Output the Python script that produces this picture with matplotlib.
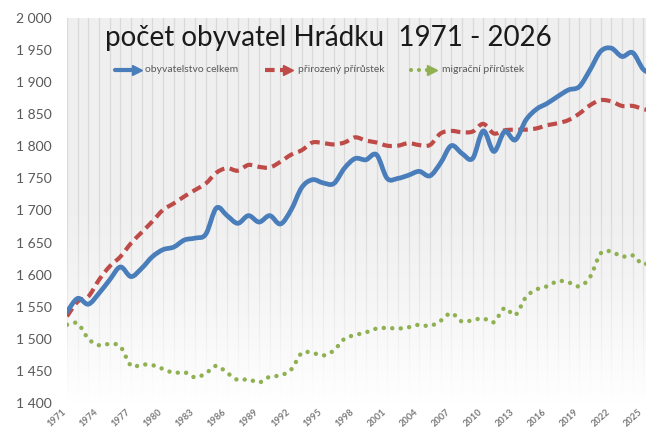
import numpy as np
import matplotlib
matplotlib.use('Agg')
import matplotlib.pyplot as plt
from matplotlib.path import Path
from matplotlib.patches import PathPatch
from matplotlib.lines import Line2D
from matplotlib.transforms import ScaledTranslation

# ---------------- data ----------------
years = list(range(1971, 2027))
total = [1542, 1563, 1554, 1571, 1592, 1612, 1597, 1610, 1628, 1639,
         1643, 1654, 1657, 1663, 1704, 1692, 1680, 1692, 1682, 1692,
         1679, 1701, 1736, 1748, 1743, 1742, 1766, 1781, 1779, 1787,
         1750, 1750, 1755, 1761, 1754, 1774, 1801, 1789, 1781, 1824,
         1792, 1823, 1810, 1841, 1858, 1867, 1878, 1888, 1893, 1919,
         1948, 1953, 1940, 1946, 1920, 1912]
natural = [1535, 1558, 1566, 1592, 1613, 1628, 1649, 1666, 1683, 1701,
           1711, 1722, 1732, 1742, 1759, 1766, 1762, 1771, 1768, 1767,
           1776, 1787, 1794, 1806, 1805, 1803, 1806, 1814, 1809, 1806,
           1801, 1801, 1805, 1802, 1802, 1820, 1824, 1822, 1823, 1835,
           1820, 1825, 1826, 1826, 1828, 1833, 1836, 1841, 1851, 1864,
           1872, 1870, 1863, 1863, 1858, 1855]
migration = [1522, 1524, 1500, 1490, 1492, 1488, 1458, 1460, 1459, 1453,
             1447, 1448, 1440, 1446, 1458, 1447, 1436, 1437, 1432, 1441,
             1443, 1452, 1478, 1478, 1474, 1482, 1500, 1506, 1510, 1516,
             1517, 1516, 1518, 1522, 1520, 1528, 1540, 1527, 1529, 1532,
             1526, 1548, 1537, 1565, 1577, 1582, 1590, 1588, 1582, 1596,
             1633, 1636, 1628, 1630, 1616, 1625]

series_names = ["obyvatelstvo celkem", "přirozený přírůstek", "migrační přírůstek"]
title = "počet obyvatel Hrádku  1971 - 2026"
ytick_values = [1400, 1450, 1500, 1550, 1600, 1650, 1700, 1750, 1800, 1850, 1900, 1950, 2000]
ytick_labels = ["1 400", "1 450", "1 500", "1 550", "1 600", "1 650", "1 700",
                "1 750", "1 800", "1 850", "1 900", "1 950", "2 000"]
xtick_years = list(range(1971, 2026, 3))
xtick_labels = [str(y) for y in xtick_years]

BLUE = "#4A7EBB"
RED = "#BE4B48"
GREEN = "#8FB152"
FONT = ["Lato", "DejaVu Sans"]

W, H = 646, 432
fig = plt.figure(figsize=(W / 100, H / 100), dpi=100)
fig.patch.set_facecolor("white")
plt.rcParams['font.family'] = FONT


def fx(px):
    return px / W


def fy(py):
    return 1 - py / H


ax_left, ax_right, ax_top, ax_bottom = 67, 654, 18, 403
ax = fig.add_axes([fx(ax_left), fy(ax_bottom), fx(ax_right - ax_left), (ax_bottom - ax_top) / H])
ax.set_facecolor("#efefef")

# vertical gridlines per year
for yr in years:
    ax.axvline(yr, color="#d9d9d9", lw=0.9, zorder=1)

# white fade at top
grad = np.ones((256, 1, 4))
alpha = np.clip(1 - np.linspace(0, 1, 256) / 0.55, 0, 1) ** 1.3
grad[:, 0, 3] = alpha
ax.imshow(grad, extent=[0, 1, 1, 0], transform=ax.transAxes, aspect='auto', zorder=2,
          interpolation='bilinear')
ax.set_xlim(1971, 2026)
ax.set_ylim(1400, 2000)


def smooth_path(x, y):
    x = np.asarray(x, float)
    y = np.asarray(y, float)
    n = len(x)
    verts = [(x[0], y[0])]
    codes = [Path.MOVETO]
    for i in range(n - 1):
        i0 = max(i - 1, 0)
        i3 = min(i + 2, n - 1)
        c1 = (x[i] + (x[i + 1] - x[i0]) / 6, y[i] + (y[i + 1] - y[i0]) / 6)
        c2 = (x[i + 1] - (x[i3] - x[i]) / 6, y[i + 1] - (y[i3] - y[i]) / 6)
        verts += [c1, c2, (x[i + 1], y[i + 1])]
        codes += [Path.CURVE4] * 3
    return Path(verts, codes)


p_green = PathPatch(smooth_path(years, migration), fill=False, edgecolor=GREEN, lw=3.2,
                    linestyle=(0, (0.01, 1.9)), capstyle='round', zorder=5)
p_red = PathPatch(smooth_path(years, natural), fill=False, edgecolor=RED, lw=3.0,
                  linestyle=(0, (2.3, 1.3)), capstyle='butt', joinstyle='round', zorder=6)
p_blue = PathPatch(smooth_path(years, total), fill=False, edgecolor=BLUE, lw=3.4,
                   capstyle='round', joinstyle='round', zorder=7)
for p in (p_green, p_red, p_blue):
    ax.add_patch(p)

for s in ax.spines.values():
    s.set_visible(False)

ax.set_yticks(ytick_values)
ax.set_yticklabels(ytick_labels, fontsize=10, color="#595959", family=FONT)
ax.set_xticks(xtick_years)
ax.set_xticklabels(xtick_labels, rotation=42, ha='right', va='top', rotation_mode='anchor',
                   fontsize=6.7, fontweight='bold', color="#7a7a7a", family=FONT)
ax.tick_params(axis='y', length=0, pad=11)
ax.tick_params(axis='x', length=0, pad=3)
shift = ScaledTranslation(-5 / 100, 0, fig.dpi_scale_trans)
for lbl in ax.get_xticklabels():
    lbl.set_transform(lbl.get_transform() + shift)

# title
fig.text(fx(105), fy(38), title, fontsize=20, color="#1a1a1a", va='center', ha='left',
         family=FONT, zorder=10)

# legend (manual)
leg_y = fy(70)
entries = [
    (115, 139, 145, BLUE, '-', 'round'),
    (265, 290, 298, RED, (0, (2.3, 1.3)), 'butt'),
    (411, 434, 442, GREEN, (0, (0.01, 1.9)), 'round'),
]
for (x0, x1, xt, col, ls, cap), name in zip(entries, series_names):
    ln = Line2D([fx(x0), fx(x1 - 4)], [leg_y, leg_y], transform=fig.transFigure,
                color=col, lw=3.0, linestyle=ls,
                solid_capstyle='round', dash_capstyle=cap, zorder=10)
    fig.add_artist(ln)
    head = Line2D([fx(x1 - 2)], [leg_y], transform=fig.transFigure, marker='>',
                  markersize=7, color=col, markeredgecolor=col, linestyle='none', zorder=10)
    fig.add_artist(head)
    fig.text(fx(xt), leg_y, name, fontsize=7.5, color="#595959", va='center', ha='left',
             family=FONT, zorder=10)

fig.savefig("out.png", dpi=100)
